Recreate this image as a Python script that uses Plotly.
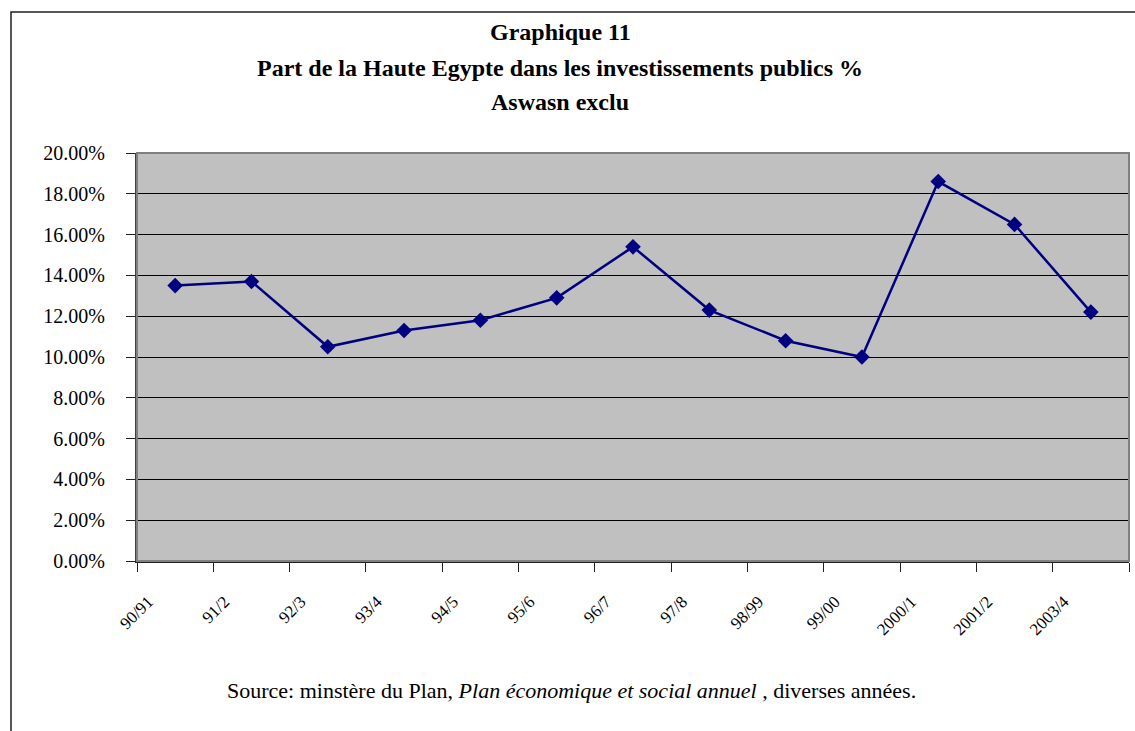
import plotly.graph_objects as go

# Exercices budgétaires (axe des catégories)
annees = ["90/91", "91/2", "92/3", "93/4", "94/5", "95/6", "96/7",
          "97/8", "98/99", "99/00", "2000/1", "2001/2", "2003/4"]

# Part de la Haute Egypte dans les investissements publics (fraction)
part_haute_egypte = [0.135, 0.137, 0.105, 0.113, 0.118, 0.129, 0.154,
                     0.123, 0.108, 0.100, 0.186, 0.165, 0.122]

# Graduations de l'axe des valeurs
y_ticks = [0.00, 0.02, 0.04, 0.06, 0.08, 0.10, 0.12, 0.14, 0.16, 0.18, 0.20]

titre = ["Graphique 11",
         "Part de la Haute Egypte dans les investissements publics %",
         "Aswasn exclu"]
source = ("Source: minstère du Plan, <i>Plan économique et social annuel</i> ,"
          " diverses années.")

W, H = 1135, 731
ML, MR, MT, MB = 137, 6, 153, 170
PW, PH = W - ML - MR, H - MT - MB


def px_x(px):
    return (px - ML) / PW


def px_y(py):
    return (H - MB - py) / PH


SERIF = "Liberation Serif"

fig = go.Figure()
fig.add_trace(go.Scatter(
    x=annees,
    y=part_haute_egypte,
    mode="lines+markers",
    line=dict(color="#000080", width=2.5),
    marker=dict(symbol="diamond", size=12, color="#000080"),
    showlegend=False,
    hoverinfo="x+y",
))

annotations = []
for txt, yc in zip(titre, [32, 68, 102]):
    annotations.append(dict(
        text=f"<b>{txt}</b>", x=px_x(560), y=px_y(yc),
        xref="paper", yref="paper", xanchor="center", yanchor="middle",
        showarrow=False, font=dict(family=SERIF, size=24, color="black"),
    ))
annotations.append(dict(
    text=source, x=px_x(571), y=px_y(690),
    xref="paper", yref="paper", xanchor="center", yanchor="middle",
    showarrow=False, font=dict(family=SERIF, size=22, color="black"),
))

shapes = [
    # cadre du graphique
    dict(type="rect", xref="paper", yref="paper",
         x0=px_x(11), x1=px_x(W + 20), y0=px_y(H + 20), y1=px_y(12),
         line=dict(color="#202020", width=1.5), layer="below"),
    # bordure de la zone de traçage
    dict(type="rect", xref="paper", yref="paper", x0=0, x1=1, y0=0, y1=1,
         line=dict(color="#808080", width=2), layer="above"),
]

fig.update_layout(
    width=W, height=H,
    margin=dict(l=ML, r=MR, t=MT, b=MB, pad=0),
    paper_bgcolor="white",
    plot_bgcolor="#C0C0C0",
    annotations=annotations,
    shapes=shapes,
    font=dict(family=SERIF, color="black"),
)

fig.update_xaxes(
    type="category",
    categoryorder="array", categoryarray=annees,
    range=[-0.5, len(annees) - 0.5],
    tickson="boundaries",
    ticks="outside", ticklen=9, tickwidth=1.2, tickcolor="#202020",
    showgrid=False,
    showline=True, linecolor="#202020", linewidth=2,
    tickangle=-45,
    tickfont=dict(family=SERIF, size=17, color="black"),
    ticklabelshift=-27,
    ticklabelstandoff=22,
    fixedrange=True,
)

fig.update_yaxes(
    range=[0, 0.20],
    tickvals=y_ticks,
    tickformat=".2%",
    ticks="outside", ticklen=9, tickwidth=1.2, tickcolor="#202020",
    showgrid=True, gridcolor="black", gridwidth=1,
    showline=True, linecolor="#404040", linewidth=2,
    zeroline=False,
    tickfont=dict(family=SERIF, size=20, color="black"),
    ticklabelstandoff=17,
    fixedrange=True,
)

fig.write_html("out.html", config={"displayModeBar": False})
